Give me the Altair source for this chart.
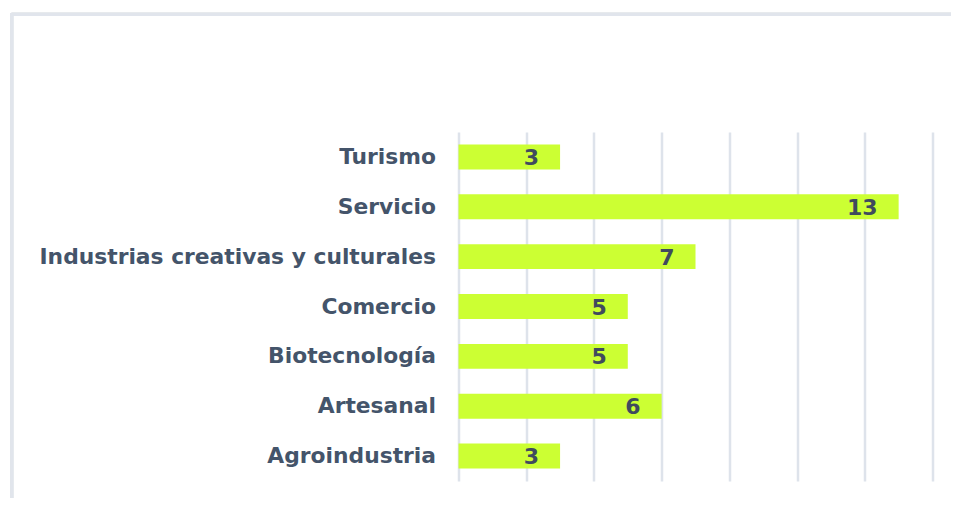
import altair as alt
import pandas as pd

categories = ["Turismo", "Servicio", "Industrias creativas y culturales",
              "Comercio", "Biotecnología", "Artesanal", "Agroindustria"]
values = [3, 13, 7, 5, 5, 6, 3]
grid_ticks = [0, 2, 4, 6, 8, 10, 12, 14]

df = pd.DataFrame({"categoria": categories, "valor": values})

FONT = "DejaVu Sans"
TEXT = "#44546A"

x = alt.X("valor:Q", scale=alt.Scale(domain=[0, 14], nice=False, zero=True),
          axis=alt.Axis(values=grid_ticks, labels=False, ticks=False, domain=False,
                        title=None, grid=True, gridColor="#DEE3EB", gridWidth=2.5))
y = alt.Y("categoria:N", sort=categories,
          scale=alt.Scale(paddingInner=0.5, paddingOuter=0.25),
          axis=alt.Axis(title=None, ticks=False, domain=False, labelFont=FONT,
                        labelFontWeight="bold", labelFontSize=21.8, labelColor=TEXT,
                        labelPadding=23, labelLimit=500))

bars = alt.Chart(df).mark_bar(color="#CCFF33").encode(x=x, y=y)

labels = alt.Chart(df).mark_text(align="right", baseline="middle", dx=-21, dy=1,
                                 font=FONT, fontWeight="bold", fontSize=22,
                                 color="#404A5E").encode(
    x="valor:Q", y=alt.Y("categoria:N", sort=categories), text="valor:Q")

frame_top = alt.Chart(df).mark_rule(color="#E1E5EC", strokeWidth=3).encode(
    x=alt.value(-447), x2=alt.value(540), y=alt.value(-117.7))
frame_left = alt.Chart(df).mark_rule(color="#E1E5EC", strokeWidth=3).encode(
    x=alt.value(-446.8), y=alt.value(-119), y2=alt.value(400))

chart = alt.layer(frame_top, frame_left, bars, labels).properties(
    width=474, height=349,
    autosize=alt.AutoSizeParams(type="none"),
    padding={"left": 450.5, "top": 124, "right": 18.5, "bottom": 17},
    background="white",
).configure_view(stroke=None)

chart.save("out.html", embed_options={"renderer": "svg", "actions": False})
